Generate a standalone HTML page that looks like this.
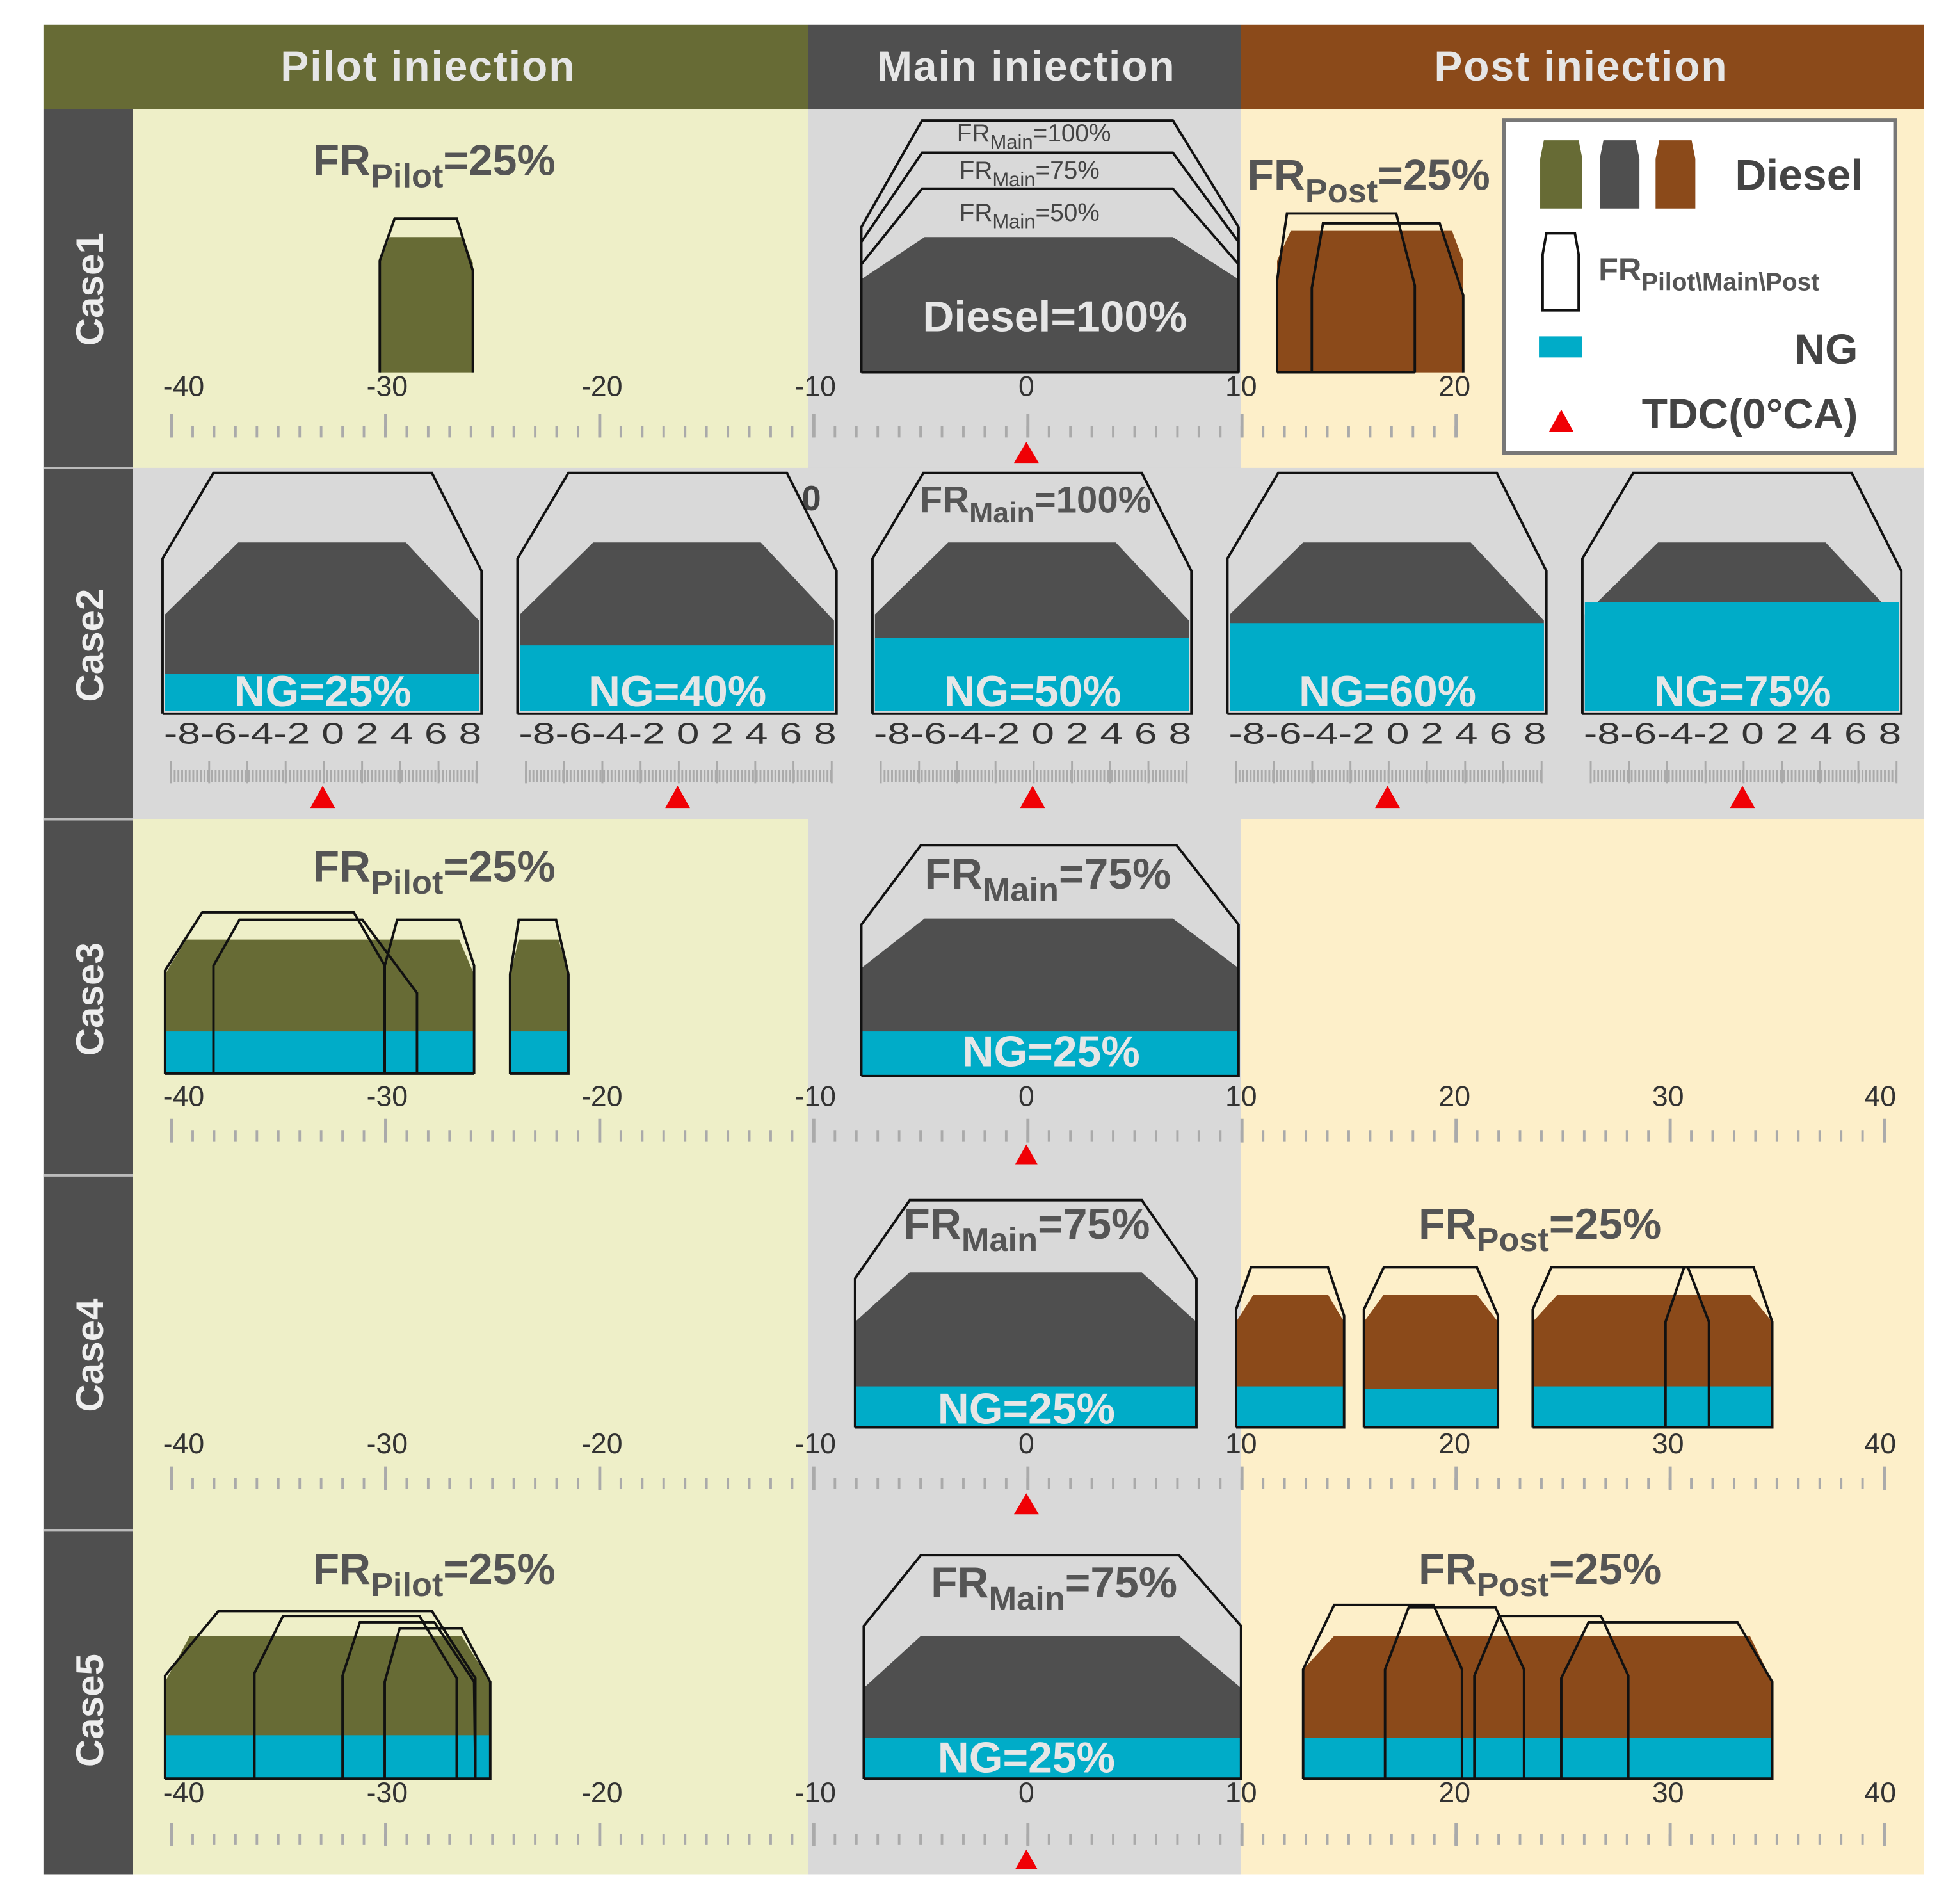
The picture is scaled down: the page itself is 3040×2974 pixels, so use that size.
<!DOCTYPE html>
<html><head><meta charset="utf-8"><style>html,body{margin:0;padding:0;background:#fff}svg{display:block}text{font-family:"Liberation Sans",Arial,sans-serif}</style></head><body>
<svg width="3040" height="2974" viewBox="0 0 1568 1534" preserveAspectRatio="none" xmlns="http://www.w3.org/2000/svg">
<rect width="1568" height="1534" fill="#fff"/>
<!-- header -->
<rect x="35" y="20" width="616" height="68" fill="#676b35"/>
<rect x="651" y="20" width="349" height="68" fill="#4f4f4f"/>
<rect x="1000" y="20" width="550" height="68" fill="#8b4a1a"/>
<g font-weight="bold" font-size="34" fill="#e6e6e6" text-anchor="middle" letter-spacing="1">
<text x="345" y="65">Pilot iniection</text><text x="827" y="65">Main iniection</text><text x="1274" y="65">Post iniection</text></g>
<!-- backgrounds -->
<rect x="107" y="88" width="544" height="1422" fill="#eeefc8"/>
<rect x="651" y="88" width="349" height="1422" fill="#d9d9d9"/>
<rect x="1000" y="88" width="550" height="1422" fill="#fdefc9"/>
<rect x="107" y="377" width="1443" height="283" fill="#d9d9d9"/>
<rect x="35" y="88" width="72" height="1422" fill="#4f4f4f"/>
<g stroke="#bbb" stroke-width="2"><line x1="35" y1="377" x2="107" y2="377"/><line x1="35" y1="660" x2="107" y2="660"/><line x1="35" y1="947" x2="107" y2="947"/><line x1="35" y1="1233" x2="107" y2="1233"/></g>
<g font-weight="bold" font-size="31" fill="#eee" text-anchor="middle">
<text transform="translate(83,233) rotate(-90)">Case1</text>
<text transform="translate(83,520) rotate(-90)">Case2</text>
<text transform="translate(83,805) rotate(-90)">Case3</text>
<text transform="translate(83,1092) rotate(-90)">Case4</text>
<text transform="translate(83,1378) rotate(-90)">Case5</text></g>

<!-- axes -->
<g stroke="#aaa" fill="none">
<line x1="137" y1="348" x2="1175" y2="348" stroke-width="9" stroke-dasharray="2 15.25"/>
<line x1="137" y1="343" x2="1175" y2="343" stroke-width="19" stroke-dasharray="2.5 170"/>
<line x1="137" y1="915" x2="1520" y2="915" stroke-width="9" stroke-dasharray="2 15.25"/>
<line x1="137" y1="911" x2="1520" y2="911" stroke-width="19" stroke-dasharray="2.5 170"/>
<line x1="137" y1="1195" x2="1520" y2="1195" stroke-width="9" stroke-dasharray="2 15.25"/>
<line x1="137" y1="1191" x2="1520" y2="1191" stroke-width="19" stroke-dasharray="2.5 170"/>
<line x1="137" y1="1482" x2="1520" y2="1482" stroke-width="9" stroke-dasharray="2 15.25"/>
<line x1="137" y1="1478" x2="1520" y2="1478" stroke-width="19" stroke-dasharray="2.5 170"/>
</g>
<g font-size="23" fill="#333" text-anchor="middle">
<text x="148" y="319">-40</text><text x="312" y="319">-30</text><text x="485" y="319">-20</text><text x="657" y="319">-10</text><text x="827" y="319">0</text><text x="1000" y="319">10</text><text x="1172" y="319">20</text>
<text x="148" y="891">-40</text><text x="312" y="891">-30</text><text x="485" y="891">-20</text><text x="657" y="891">-10</text><text x="827" y="891">0</text><text x="1000" y="891">10</text><text x="1172" y="891">20</text><text x="1344" y="891">30</text><text x="1515" y="891">40</text>
<text x="148" y="1171">-40</text><text x="312" y="1171">-30</text><text x="485" y="1171">-20</text><text x="657" y="1171">-10</text><text x="827" y="1171">0</text><text x="1000" y="1171">10</text><text x="1172" y="1171">20</text><text x="1344" y="1171">30</text><text x="1515" y="1171">40</text>
<text x="148" y="1452">-40</text><text x="312" y="1452">-30</text><text x="485" y="1452">-20</text><text x="657" y="1452">-10</text><text x="827" y="1452">0</text><text x="1000" y="1452">10</text><text x="1172" y="1452">20</text><text x="1344" y="1452">30</text><text x="1515" y="1452">40</text>
</g>
<g fill="#f00005">
<polygon points="827,356 817,373 837,373"/><polygon points="827,922 818,938 836,938"/><polygon points="827,1203 817,1220 837,1220"/><polygon points="827,1490 818,1506 836,1506"/>
</g>

<!-- CASE1 -->
<polygon points="306,300 306,212 314,191 373,191 381,212 381,300" fill="#676b35"/>
<polyline points="306,300 306,210 318,176 368,176 381,218 381,300" fill="none" stroke="#111" stroke-width="2"/>
<text x="252" y="141" font-size="35" font-weight="bold" fill="#555">FR<tspan font-size="27" dy="10">Pilot</tspan><tspan dy="-10">=25%</tspan></text>
<polygon points="694,300 694,225 745,191 945,191 998,225 998,300" fill="#4f4f4f"/>
<g fill="none" stroke="#111" stroke-width="2">
<polyline points="694,300 694,183 743,97 945,97 998,183 998,300"/>
<polyline points="694,300 694,195 743,123 945,123 998,195"/>
<polyline points="694,300 694,213 743,152 945,152 998,213"/>
<polyline points="694,300 998,300"/>
</g>
<g font-size="20" fill="#444"><text x="771" y="114">FR<tspan font-size="16" dy="6">Main</tspan><tspan dy="-6">=100%</tspan></text>
<text x="773" y="144">FR<tspan font-size="16" dy="6">Main</tspan><tspan dy="-6">=75%</tspan></text>
<text x="773" y="178">FR<tspan font-size="16" dy="6">Main</tspan><tspan dy="-6">=50%</tspan></text></g>
<text x="850" y="267" font-size="35" font-weight="bold" fill="#e6e6e6" text-anchor="middle">Diesel=100%</text>
<polygon points="1029,300 1029,210 1040,186 1170,186 1179,210 1179,300" fill="#8b4a1a"/>
<g fill="none" stroke="#111" stroke-width="2">
<polyline points="1029,300 1029,226 1037,172 1125,172 1140,230 1140,300"/>
<polyline points="1057,300 1057,232 1066,180 1160,180 1179,238 1179,300"/>
<line x1="1029" y1="300" x2="1140" y2="300"/></g>
<text x="1005" y="153" font-size="35" font-weight="bold" fill="#555">FR<tspan font-size="27" dy="10">Post</tspan><tspan dy="-10">=25%</tspan></text>
<!-- legend -->
<rect x="1212" y="97" width="315" height="268" fill="#fff" stroke="#777" stroke-width="3"/>
<polygon points="1241,168 1241,128 1244,113 1272,113 1275,128 1275,168" fill="#676b35"/>
<polygon points="1289,168 1289,128 1292,113 1318,113 1321,128 1321,168" fill="#4f4f4f"/>
<polygon points="1334,168 1334,128 1337,113 1363,113 1366,128 1366,168" fill="#8b4a1a"/>
<text x="1398" y="153" font-size="35" font-weight="bold" fill="#444">Diesel</text>
<polygon points="1243,250 1243,205 1246,188 1269,188 1272,205 1272,250" fill="#fff" stroke="#111" stroke-width="2"/>
<text x="1288" y="226" font-size="26" font-weight="bold" fill="#555">FR<tspan font-size="20" dy="8">Pilot\Main\Post</tspan></text>
<rect x="1240" y="271" width="35" height="17" fill="#00acc8"/>
<text x="1497" y="293" font-size="34" font-weight="bold" fill="#444" text-anchor="end">NG</text>
<polygon points="1258,330 1248,348 1268,348" fill="#f00005"/>
<text x="1497" y="345" font-size="34" font-weight="bold" fill="#444" text-anchor="end">TDC(0°CA)</text>

<!-- CASE2 -->
<g><polygon points="133,573 133,495 192,437 327,437 386,500 386,573" fill="#4f4f4f"/><polyline points="131,575 131,450 172,381 348,381 388,460 388,575 131,575" fill="none" stroke="#111" stroke-width="2"/></g>
<g transform="translate(286,0)"><polygon points="133,573 133,495 192,437 327,437 386,500 386,573" fill="#4f4f4f"/><polyline points="131,575 131,450 172,381 348,381 388,460 388,575 131,575" fill="none" stroke="#111" stroke-width="2"/></g>
<g transform="translate(572,0)"><polygon points="133,573 133,495 192,437 327,437 386,500 386,573" fill="#4f4f4f"/><polyline points="131,575 131,450 172,381 348,381 388,460 388,575 131,575" fill="none" stroke="#111" stroke-width="2"/></g>
<g transform="translate(858,0)"><polygon points="133,573 133,495 192,437 327,437 386,500 386,573" fill="#4f4f4f"/><polyline points="131,575 131,450 172,381 348,381 388,460 388,575 131,575" fill="none" stroke="#111" stroke-width="2"/></g>
<g transform="translate(1144,0)"><polygon points="133,573 133,495 192,437 327,437 386,500 386,573" fill="#4f4f4f"/><polyline points="131,575 131,450 172,381 348,381 388,460 388,575 131,575" fill="none" stroke="#111" stroke-width="2"/></g>
<g fill="#00acc8">
<rect x="133" y="543" width="253" height="30"/><rect x="419" y="520" width="253" height="53"/><rect x="705" y="514" width="253" height="59"/><rect x="991" y="502" width="253" height="71"/><rect x="1277" y="485" width="253" height="88"/></g>
<g font-size="35" font-weight="bold" fill="#e6e6e6" text-anchor="middle">
<text x="260" y="569">NG=25%</text><text x="546" y="569">NG=40%</text><text x="832" y="569">NG=50%</text><text x="1118" y="569">NG=60%</text><text x="1404" y="569">NG=75%</text></g>
<text x="646" y="411" font-size="28" font-weight="bold" fill="#444">0</text>
<text x="741" y="413" font-size="30" font-weight="bold" fill="#555">FR<tspan font-size="23" dy="8">Main</tspan><tspan dy="-8">=100%</tspan></text>
<g font-size="24" fill="#333" text-anchor="middle">
<text x="260" y="599" textLength="256" lengthAdjust="spacingAndGlyphs">-8-6-4-2 0 2 4 6 8</text>
<text x="546" y="599" textLength="256" lengthAdjust="spacingAndGlyphs">-8-6-4-2 0 2 4 6 8</text>
<text x="832" y="599" textLength="256" lengthAdjust="spacingAndGlyphs">-8-6-4-2 0 2 4 6 8</text>
<text x="1118" y="599" textLength="256" lengthAdjust="spacingAndGlyphs">-8-6-4-2 0 2 4 6 8</text>
<text x="1404" y="599" textLength="256" lengthAdjust="spacingAndGlyphs">-8-6-4-2 0 2 4 6 8</text></g>
<g stroke="#aaa" fill="none">
<line x1="137" y1="625" x2="385" y2="625" stroke-width="10" stroke-dasharray="1.5 1.5"/><line x1="137" y1="622" x2="386" y2="622" stroke-width="18" stroke-dasharray="1.5 29.3"/>
<line x1="423" y1="625" x2="671" y2="625" stroke-width="10" stroke-dasharray="1.5 1.5"/><line x1="423" y1="622" x2="672" y2="622" stroke-width="18" stroke-dasharray="1.5 29.3"/>
<line x1="709" y1="625" x2="957" y2="625" stroke-width="10" stroke-dasharray="1.5 1.5"/><line x1="709" y1="622" x2="958" y2="622" stroke-width="18" stroke-dasharray="1.5 29.3"/>
<line x1="995" y1="625" x2="1243" y2="625" stroke-width="10" stroke-dasharray="1.5 1.5"/><line x1="995" y1="622" x2="1244" y2="622" stroke-width="18" stroke-dasharray="1.5 29.3"/>
<line x1="1281" y1="625" x2="1529" y2="625" stroke-width="10" stroke-dasharray="1.5 1.5"/><line x1="1281" y1="622" x2="1530" y2="622" stroke-width="18" stroke-dasharray="1.5 29.3"/>
</g>
<g fill="#f00005"><polygon points="260,633 250,651 270,651"/><polygon points="546,633 536,651 556,651"/><polygon points="832,633 822,651 842,651"/><polygon points="1118,633 1108,651 1128,651"/><polygon points="1404,633 1394,651 1414,651"/></g>

<!-- CASE3 -->
<text x="252" y="710" font-size="35" font-weight="bold" fill="#555">FR<tspan font-size="27" dy="10">Pilot</tspan><tspan dy="-10">=25%</tspan></text>
<polygon points="133,865 133,785 150,757 370,757 382,785 382,865" fill="#676b35"/>
<rect x="133" y="831" width="249" height="34" fill="#00acc8"/>
<polygon points="411,865 411,785 418,757 450,757 458,785 458,865" fill="#676b35"/>
<rect x="411" y="831" width="47" height="34" fill="#00acc8"/>
<g fill="none" stroke="#111" stroke-width="2">
<polyline points="133,865 133,782 163,735 285,735 310,778 310,865"/>
<polyline points="172,865 172,778 193,741 292,741 336,800 336,865"/>
<polyline points="310,865 310,778 320,741 370,741 382,778 382,865"/>
<polyline points="411,865 411,785 418,741 448,741 458,785 458,865 411,865"/>
<line x1="133" y1="865" x2="382" y2="865"/></g>
<polygon points="694,867 694,780 745,740 945,740 998,780 998,867" fill="#4f4f4f"/>
<rect x="694" y="831" width="304" height="36" fill="#00acc8"/>
<polyline points="694,867 694,745 742,681 948,681 998,745 998,867 694,867" fill="none" stroke="#111" stroke-width="2"/>
<text x="745" y="716" font-size="35" font-weight="bold" fill="#555">FR<tspan font-size="27" dy="10">Main</tspan><tspan dy="-10">=75%</tspan></text>
<text x="847" y="859" font-size="35" font-weight="bold" fill="#e6e6e6" text-anchor="middle">NG=25%</text>

<!-- CASE4 -->
<polygon points="689,1150 689,1065 733,1025 920,1025 964,1065 964,1150" fill="#4f4f4f"/>
<rect x="689" y="1117" width="275" height="33" fill="#00acc8"/>
<polyline points="689,1150 689,1030 733,967 920,967 964,1030 964,1150 689,1150" fill="none" stroke="#111" stroke-width="2"/>
<text x="728" y="998" font-size="35" font-weight="bold" fill="#555">FR<tspan font-size="27" dy="10">Main</tspan><tspan dy="-10">=75%</tspan></text>
<text x="827" y="1147" font-size="35" font-weight="bold" fill="#e6e6e6" text-anchor="middle">NG=25%</text>
<g fill="#8b4a1a">
<polygon points="996,1150 996,1065 1010,1043 1070,1043 1083,1065 1083,1150"/>
<polygon points="1099,1150 1099,1065 1115,1043 1190,1043 1207,1065 1207,1150"/>
<polygon points="1235,1150 1235,1065 1255,1043 1410,1043 1428,1065 1428,1150"/></g>
<g fill="#00acc8"><rect x="996" y="1117" width="87" height="33"/><rect x="1099" y="1119" width="108" height="31"/><rect x="1235" y="1117" width="193" height="33"/></g>
<g fill="none" stroke="#111" stroke-width="2">
<polyline points="996,1150 996,1055 1008,1021 1070,1021 1083,1060 1083,1150 996,1150"/>
<polyline points="1099,1150 1099,1055 1115,1021 1190,1021 1207,1060 1207,1150 1099,1150"/>
<polyline points="1235,1150 1235,1055 1250,1021 1360,1021 1377,1065 1377,1150"/>
<polyline points="1342,1150 1342,1065 1357,1021 1413,1021 1428,1065 1428,1150 1235,1150"/></g>
<text x="1143" y="998" font-size="35" font-weight="bold" fill="#555">FR<tspan font-size="27" dy="10">Post</tspan><tspan dy="-10">=25%</tspan></text>

<!-- CASE5 -->
<text x="252" y="1276" font-size="35" font-weight="bold" fill="#555">FR<tspan font-size="27" dy="10">Pilot</tspan><tspan dy="-10">=25%</tspan></text>
<polygon points="133,1433 133,1355 153,1318 372,1318 395,1355 395,1433" fill="#676b35"/>
<rect x="133" y="1398" width="262" height="35" fill="#00acc8"/>
<g fill="none" stroke="#111" stroke-width="2">
<polyline points="133,1433 133,1350 176,1298 348,1298 383,1352 383,1433"/>
<polyline points="205,1433 205,1348 228,1302 338,1302 368,1352 368,1433"/>
<polyline points="276,1433 276,1350 290,1307 350,1307 382,1355 383,1433"/>
<polyline points="310,1433 310,1355 322,1312 372,1312 395,1355 395,1433 133,1433"/></g>
<polygon points="696,1433 696,1360 742,1318 950,1318 1000,1360 1000,1433" fill="#4f4f4f"/>
<rect x="696" y="1400" width="304" height="33" fill="#00acc8"/>
<polyline points="696,1433 696,1310 742,1253 950,1253 1000,1310 1000,1433 696,1433" fill="none" stroke="#111" stroke-width="2"/>
<text x="750" y="1287" font-size="35" font-weight="bold" fill="#555">FR<tspan font-size="27" dy="10">Main</tspan><tspan dy="-10">=75%</tspan></text>
<text x="827" y="1428" font-size="35" font-weight="bold" fill="#e6e6e6" text-anchor="middle">NG=25%</text>
<polygon points="1050,1433 1050,1345 1075,1318 1410,1318 1428,1355 1428,1433" fill="#8b4a1a"/>
<rect x="1050" y="1400" width="378" height="33" fill="#00acc8"/>
<g fill="none" stroke="#111" stroke-width="2">
<polyline points="1050,1433 1050,1345 1075,1293 1155,1293 1178,1345 1178,1433"/>
<polyline points="1116,1433 1116,1345 1135,1295 1205,1295 1228,1345 1228,1433"/>
<polyline points="1188,1433 1188,1350 1208,1302 1290,1302 1312,1350 1312,1433"/>
<polyline points="1258,1433 1258,1352 1280,1307 1400,1307 1428,1355 1428,1433 1050,1433"/></g>
<text x="1143" y="1276" font-size="35" font-weight="bold" fill="#555">FR<tspan font-size="27" dy="10">Post</tspan><tspan dy="-10">=25%</tspan></text>
</svg>
</body></html>
